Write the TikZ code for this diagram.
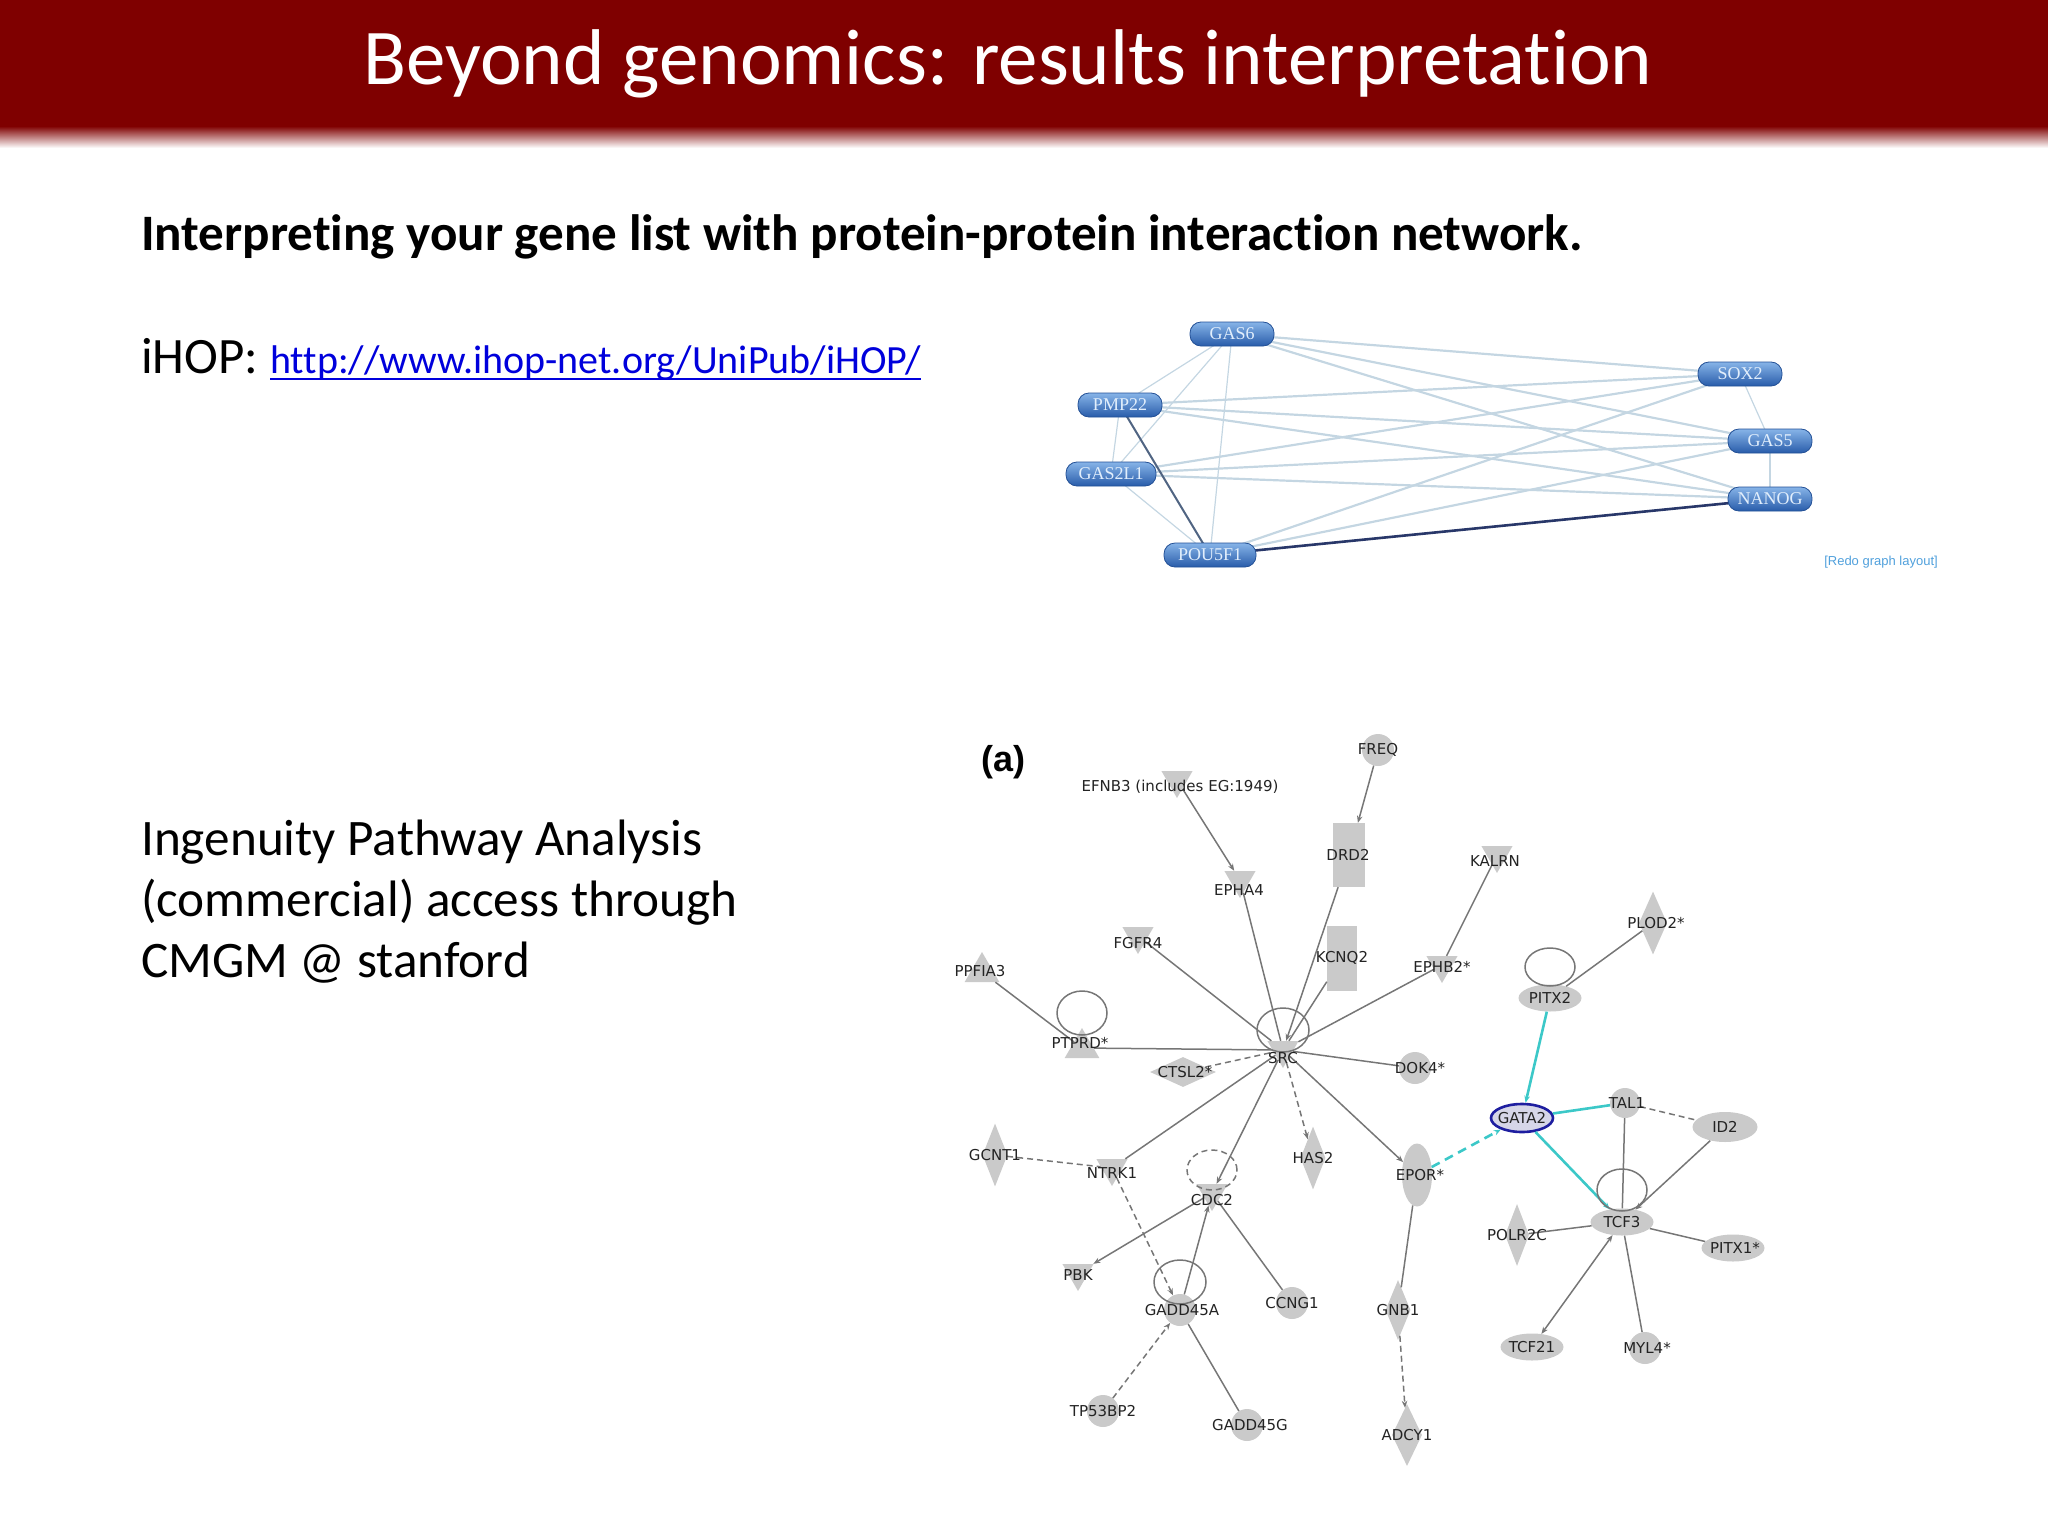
\documentclass[tikz,border=0pt]{standalone}
\usepackage{fontspec}
\setmainfont{Carlito}[Ligatures=NoCommon]
\newfontfamily\genefont{DejaVu Sans}
\newfontfamily\ihopfont{Liberation Serif}
\newfontfamily\arialfont{Liberation Sans}
\usetikzlibrary{shapes.geometric,arrows.meta,backgrounds}
\definecolor{bannerred}{RGB}{127,0,0}
\definecolor{linkblue}{RGB}{0,0,220}
\definecolor{ngray}{RGB}{202,202,202}
\definecolor{egray}{RGB}{118,118,118}
\definecolor{ecyan}{RGB}{60,200,200}
\definecolor{gataedge}{RGB}{30,30,160}
\definecolor{gatafill}{RGB}{214,214,232}
\definecolor{ilight}{RGB}{196,214,226}
\definecolor{imid}{RGB}{80,100,130}
\definecolor{idark}{RGB}{40,55,105}
\definecolor{itop}{RGB}{135,180,232}
\definecolor{ibot}{RGB}{40,92,170}
\definecolor{iborder}{RGB}{35,80,150}
\definecolor{itext}{RGB}{225,238,252}
\definecolor{gtext}{RGB}{35,35,35}
\definecolor{redo}{RGB}{80,160,220}
\begin{document}
\begin{tikzpicture}[x=1pt,y=-1pt,
  ihopnode/.style={rectangle, rounded corners=11pt, top color=itop, bottom color=ibot, draw=iborder, line width=0.8pt, minimum height=24pt, minimum width=84pt, inner sep=0pt, text=itext, font=\ihopfont\fontsize{18}{18}\selectfont},
  iedge/.style={draw=ilight, line width=2.2pt},
  gtri/.style={regular polygon, regular polygon sides=3, shape border rotate=180, fill=ngray, minimum size=36pt, inner sep=0pt},
  gutri/.style={regular polygon, regular polygon sides=3, fill=ngray, minimum size=40pt, inner sep=0pt},
  gcirc/.style={circle, fill=ngray, minimum size=32pt, inner sep=0pt},
  gell/.style={ellipse, fill=ngray, minimum width=63pt, minimum height=27pt, inner sep=0pt},
  gvell/.style={ellipse, fill=ngray, minimum width=30pt, minimum height=63pt, inner sep=0pt},
  gdia/.style={diamond, fill=ngray, minimum width=26pt, minimum height=63pt, inner sep=0pt},
  grect/.style={rectangle, fill=ngray, minimum width=32pt, minimum height=64pt, inner sep=0pt},
  glabel/.style={font=\genefont\fontsize{15}{15}\selectfont, text=gtext, inner sep=0pt},
  ipaedge/.style={draw=egray, line width=1.5pt},
  cyanedge/.style={draw=ecyan, line width=2.6pt},
  arr/.style={-{Stealth[length=7pt,width=5.5pt]}},
  dashline/.style={dash pattern=on 6pt off 4pt}
]
\useasboundingbox (0,0) rectangle (2048,1536);
% banner
\fill[bannerred] (0,0) rectangle (2048,126);
\foreach \i in {0,...,21}{
  \pgfmathsetmacro{\pc}{100-\i*100/22}
  \fill[bannerred!\pc!white] (0,126+\i) rectangle (2048,127+\i);
}
\node[anchor=base, text=white, inner sep=0pt, font=\fontsize{79}{90}\selectfont] (title) at (1008,85) {Beyond genomics: results interpretation};

% texts
\node[anchor=base west, inner sep=0pt, font=\bfseries\fontsize{51.1}{58}\selectfont] (sub) at (141,250) {Interpreting your gene list with protein-protein interaction network.};
\node[anchor=base west, inner sep=0pt, font=\fontsize{51}{58}\selectfont] (ihop) at (141,373) {iHOP:};
\node[anchor=base west, inner sep=0pt, text=linkblue, font=\fontsize{40}{48}\selectfont] (link) at (270,373) {http://www.ihop-net.org/UniPub/iHOP/};
\draw[linkblue, line width=2pt] ([yshift=-6pt]link.base west) -- ([yshift=-6pt]link.base east);
\node[anchor=base west, inner sep=0pt, font=\fontsize{51.2}{58}\selectfont] (ipa1) at (141,855) {Ingenuity Pathway Analysis};
\node[anchor=base west, inner sep=0pt, font=\fontsize{51.2}{58}\selectfont] (ipa2) at (141,916) {(commercial) access through};
\node[anchor=base west, inner sep=0pt, font=\fontsize{51.2}{58}\selectfont] (ipa3) at (141,977) {CMGM @ stanford};

% ---------- iHOP network ----------
\node[ihopnode] (gas6) at (1232,334) {GAS6};
\node[ihopnode] (sox2) at (1740,374) {SOX2};
\node[ihopnode] (pmp22) at (1120,405) {PMP22};
\node[ihopnode, minimum width=90pt] (gas2l1) at (1111,474) {GAS2L1};
\node[ihopnode, minimum width=92pt] (pou5f1) at (1210,555) {POU5F1};
\node[ihopnode] (gas5) at (1770,441) {GAS5};
\node[ihopnode] (nanog) at (1770,499) {NANOG};
\node[anchor=center, inner sep=0pt, text=redo, font=\arialfont\fontsize{13}{13}\selectfont] (redo) at (1881,562) {[Redo graph layout]};

\begin{scope}[on background layer]
\foreach \a in {gas6,pmp22,gas2l1,pou5f1}{
  \foreach \b in {sox2,gas5}{
    \draw[iedge] (\a.center) -- (\b.center);
  }
}
\draw[iedge] (gas6.center) -- (nanog.center);
\draw[iedge] (pmp22.center) -- (nanog.center);
\draw[iedge] (gas2l1.center) -- (nanog.center);
\draw[iedge, line width=1.2pt] (gas6.center) -- (pmp22.center);
\draw[iedge, line width=1.2pt] (gas6.center) -- (gas2l1.center);
\draw[iedge, line width=1.2pt] (gas6.center) -- (pou5f1.center);
\draw[iedge, line width=1.2pt] (pmp22.center) -- (gas2l1.center);
\draw[iedge, line width=1.2pt] (gas2l1.center) -- (pou5f1.center);
\draw[iedge, line width=1.2pt] (sox2.center) -- (gas5.center);
\draw[iedge, line width=1.2pt] (gas5.center) -- (nanog.center);
\draw[draw=imid, line width=2pt] (pmp22.center) -- (pou5f1.center);
\draw[draw=idark, line width=2.6pt] (pou5f1.center) -- (nanog.center);
\end{scope}

% ---------- IPA network ----------
\node[inner sep=0pt, font=\arialfont\bfseries\fontsize{36}{36}\selectfont] (alabel) at (1003,762) {(a)};

\node[gtri] (efnb3) at (1177,780) {};
\node[gcirc] (freq) at (1378,750) {};
\node[grect] (drd2) at (1349,855) {};
\node[grect, minimum width=30pt, minimum height=65pt] (kcnq2) at (1342,958) {};
\node[gtri] (epha4) at (1240,880) {};
\node[gtri] (fgfr4) at (1138,936) {};
\node[gutri] (ppfia3) at (982,972) {};
\node[gutri] (ptprd) at (1082,1048) {};
\node[gtri] (src) at (1283,1050) {};
\node[gdia, minimum width=66pt, minimum height=30pt] (ctsl2) at (1183,1072) {};
\node[gcirc] (dok4) at (1415,1068) {};
\node[gtri] (kalrn) at (1497,855) {};
\node[gtri] (ephb2) at (1442,965) {};
\node[gdia, minimum width=28pt] (plod2) at (1653,923) {};
\node[gell] (pitx2) at (1550,998) {};
\node[ellipse, draw=gataedge, line width=2.6pt, fill=gatafill, minimum width=62pt, minimum height=28pt, inner sep=0pt] (gata2) at (1522,1118) {};
\node[gcirc, minimum size=30pt] (tal1) at (1625,1103) {};
\node[gell, minimum width=65pt, minimum height=30pt] (id2) at (1725,1127) {};
\node[gell] (tcf3) at (1622,1222) {};
\node[gdia, minimum width=24pt, minimum height=62pt] (polr2c) at (1517,1235) {};
\node[gell] (pitx1) at (1733,1248) {};
\node[gell] (tcf21) at (1532,1347) {};
\node[gcirc] (myl4) at (1645,1348) {};
\node[gvell] (epor) at (1417,1175) {};
\node[gdia, minimum width=25pt, minimum height=60pt] (gnb1) at (1398,1310) {};
\node[gdia, minimum width=30pt, minimum height=62pt] (adcy1) at (1407,1435) {};
\node[gdia, minimum width=25pt] (has2) at (1313,1158) {};
\node[gdia, minimum width=25pt] (gcnt1) at (995,1155) {};
\node[gtri] (ntrk1) at (1112,1168) {};
\node[gtri] (cdc2) at (1212,1193) {};
\node[gtri] (pbk) at (1078,1273) {};
\node[gcirc] (gadd45a) at (1180,1310) {};
\node[gcirc] (ccng1) at (1292,1303) {};
\node[gcirc] (tp53bp2) at (1103,1411) {};
\node[gcirc] (gadd45g) at (1247,1425) {};

% edges
\draw[ipaedge, arr] (efnb3) -- (epha4);
\draw[ipaedge, arr] (freq) -- (drd2);
\draw[ipaedge] (epha4) -- (src);
\draw[ipaedge, arr] (drd2) -- (src);
\draw[ipaedge] (kcnq2) -- (src);
\draw[ipaedge] (fgfr4) -- (src);
\draw[ipaedge] (ppfia3) -- (ptprd);
\draw[ipaedge] (ptprd) -- (src);
\draw[ipaedge, dashline] (ctsl2) -- (src);
\draw[ipaedge] (src) -- (dok4);
\draw[ipaedge] (src) -- (ephb2);
\draw[ipaedge] (ephb2) -- (kalrn);
\draw[ipaedge] (src) -- (ntrk1);
\draw[ipaedge, arr] (src) -- (cdc2);
\draw[ipaedge, arr, dashline] (src) -- (has2);
\draw[ipaedge, arr] (src) -- (epor);
\draw[ipaedge, dashline] (gcnt1) -- (ntrk1);
\draw[ipaedge, arr, dashline] (ntrk1) -- (gadd45a);
\draw[ipaedge, arr] (cdc2) -- (pbk);
\draw[ipaedge, arr] (gadd45a) -- (cdc2);
\draw[ipaedge] (cdc2) -- (ccng1);
\draw[ipaedge, arr, dashline] (tp53bp2) -- (gadd45a);
\draw[ipaedge] (gadd45a) -- (gadd45g);
\draw[ipaedge] (epor) -- (gnb1);
\draw[ipaedge, arr, dashline] (gnb1) -- (adcy1);
\draw[cyanedge, arr, dash pattern=on 9pt off 6pt] (epor) -- (gata2);
\draw[cyanedge, arr] (pitx2) -- (gata2);
\draw[cyanedge] (gata2) -- (tal1);
\draw[cyanedge, arr] (gata2) -- (tcf3);
\draw[ipaedge] (tal1) -- (tcf3);
\draw[ipaedge, dashline] (tal1) -- (id2);
\draw[ipaedge, arr] (id2) -- (tcf3);
\draw[ipaedge] (tcf3) -- (polr2c);
\draw[ipaedge] (tcf3) -- (pitx1);
\draw[ipaedge, {Stealth[length=7pt,width=5.5pt]}-{Stealth[length=7pt,width=5.5pt]}] (tcf3) -- (tcf21);
\draw[ipaedge] (tcf3) -- (myl4);
\draw[ipaedge] (pitx2) -- (plod2);

% self loops
\draw[ipaedge] ([yshift=20pt]src.center) ellipse [x radius=26pt, y radius=22pt];
\draw[ipaedge] ([yshift=35pt]ptprd.center) ellipse [x radius=25pt, y radius=22pt];
\draw[ipaedge] ([yshift=31pt]pitx2.center) ellipse [x radius=25pt, y radius=19pt];
\draw[ipaedge] ([yshift=32pt]tcf3.center) ellipse [x radius=25pt, y radius=21pt];
\draw[ipaedge, dashline] ([yshift=23pt]cdc2.center) ellipse [x radius=25pt, y radius=20pt];
\draw[ipaedge] ([yshift=28pt]gadd45a.center) ellipse [x radius=26pt, y radius=22pt];

% labels
\node[glabel] (lefnb3) at (1180,787) {EFNB3 (includes EG:1949)};
\node[glabel] (lfreq) at (1378,750) {FREQ};
\node[glabel] (ldrd2) at (1348,855) {DRD2};
\node[glabel] (lkcnq2) at (1342,958) {KCNQ2};
\node[glabel] (lepha4) at (1239,890) {EPHA4};
\node[glabel] (lfgfr4) at (1138,943) {FGFR4};
\node[glabel] (lppfia3) at (980,971) {PPFIA3};
\node[glabel] (lptprd) at (1080,1043) {PTPRD*};
\node[glabel] (lsrc) at (1283,1058) {SRC};
\node[glabel] (lctsl2) at (1185,1072) {CTSL2*};
\node[glabel] (ldok4) at (1420,1068) {DOK4*};
\node[glabel] (lkalrn) at (1495,861) {KALRN};
\node[glabel] (lephb2) at (1442,967) {EPHB2*};
\node[glabel] (lplod2) at (1656,923) {PLOD2*};
\node[glabel] (lpitx2) at (1550,998) {PITX2};
\node[glabel] (lgata2) at (1522,1118) {GATA2};
\node[glabel] (ltal1) at (1627,1103) {TAL1};
\node[glabel] (lid2) at (1725,1127) {ID2};
\node[glabel] (ltcf3) at (1622,1222) {TCF3};
\node[glabel] (lpolr2c) at (1517,1235) {POLR2C};
\node[glabel] (lpitx1) at (1735,1248) {PITX1*};
\node[glabel] (ltcf21) at (1532,1347) {TCF21};
\node[glabel] (lmyl4) at (1647,1348) {MYL4*};
\node[glabel] (lepor) at (1420,1175) {EPOR*};
\node[glabel] (lgnb1) at (1398,1310) {GNB1};
\node[glabel] (ladcy1) at (1407,1435) {ADCY1};
\node[glabel] (lhas2) at (1313,1158) {HAS2};
\node[glabel] (lgcnt1) at (995,1155) {GCNT1};
\node[glabel] (lntrk1) at (1112,1173) {NTRK1};
\node[glabel] (lcdc2) at (1212,1200) {CDC2};
\node[glabel] (lpbk) at (1078,1275) {PBK};
\node[glabel] (lgadd45a) at (1182,1310) {GADD45A};
\node[glabel] (lccng1) at (1292,1303) {CCNG1};
\node[glabel] (ltp53bp2) at (1103,1411) {TP53BP2};
\node[glabel] (lgadd45g) at (1250,1425) {GADD45G};
\end{tikzpicture}
\end{document}
